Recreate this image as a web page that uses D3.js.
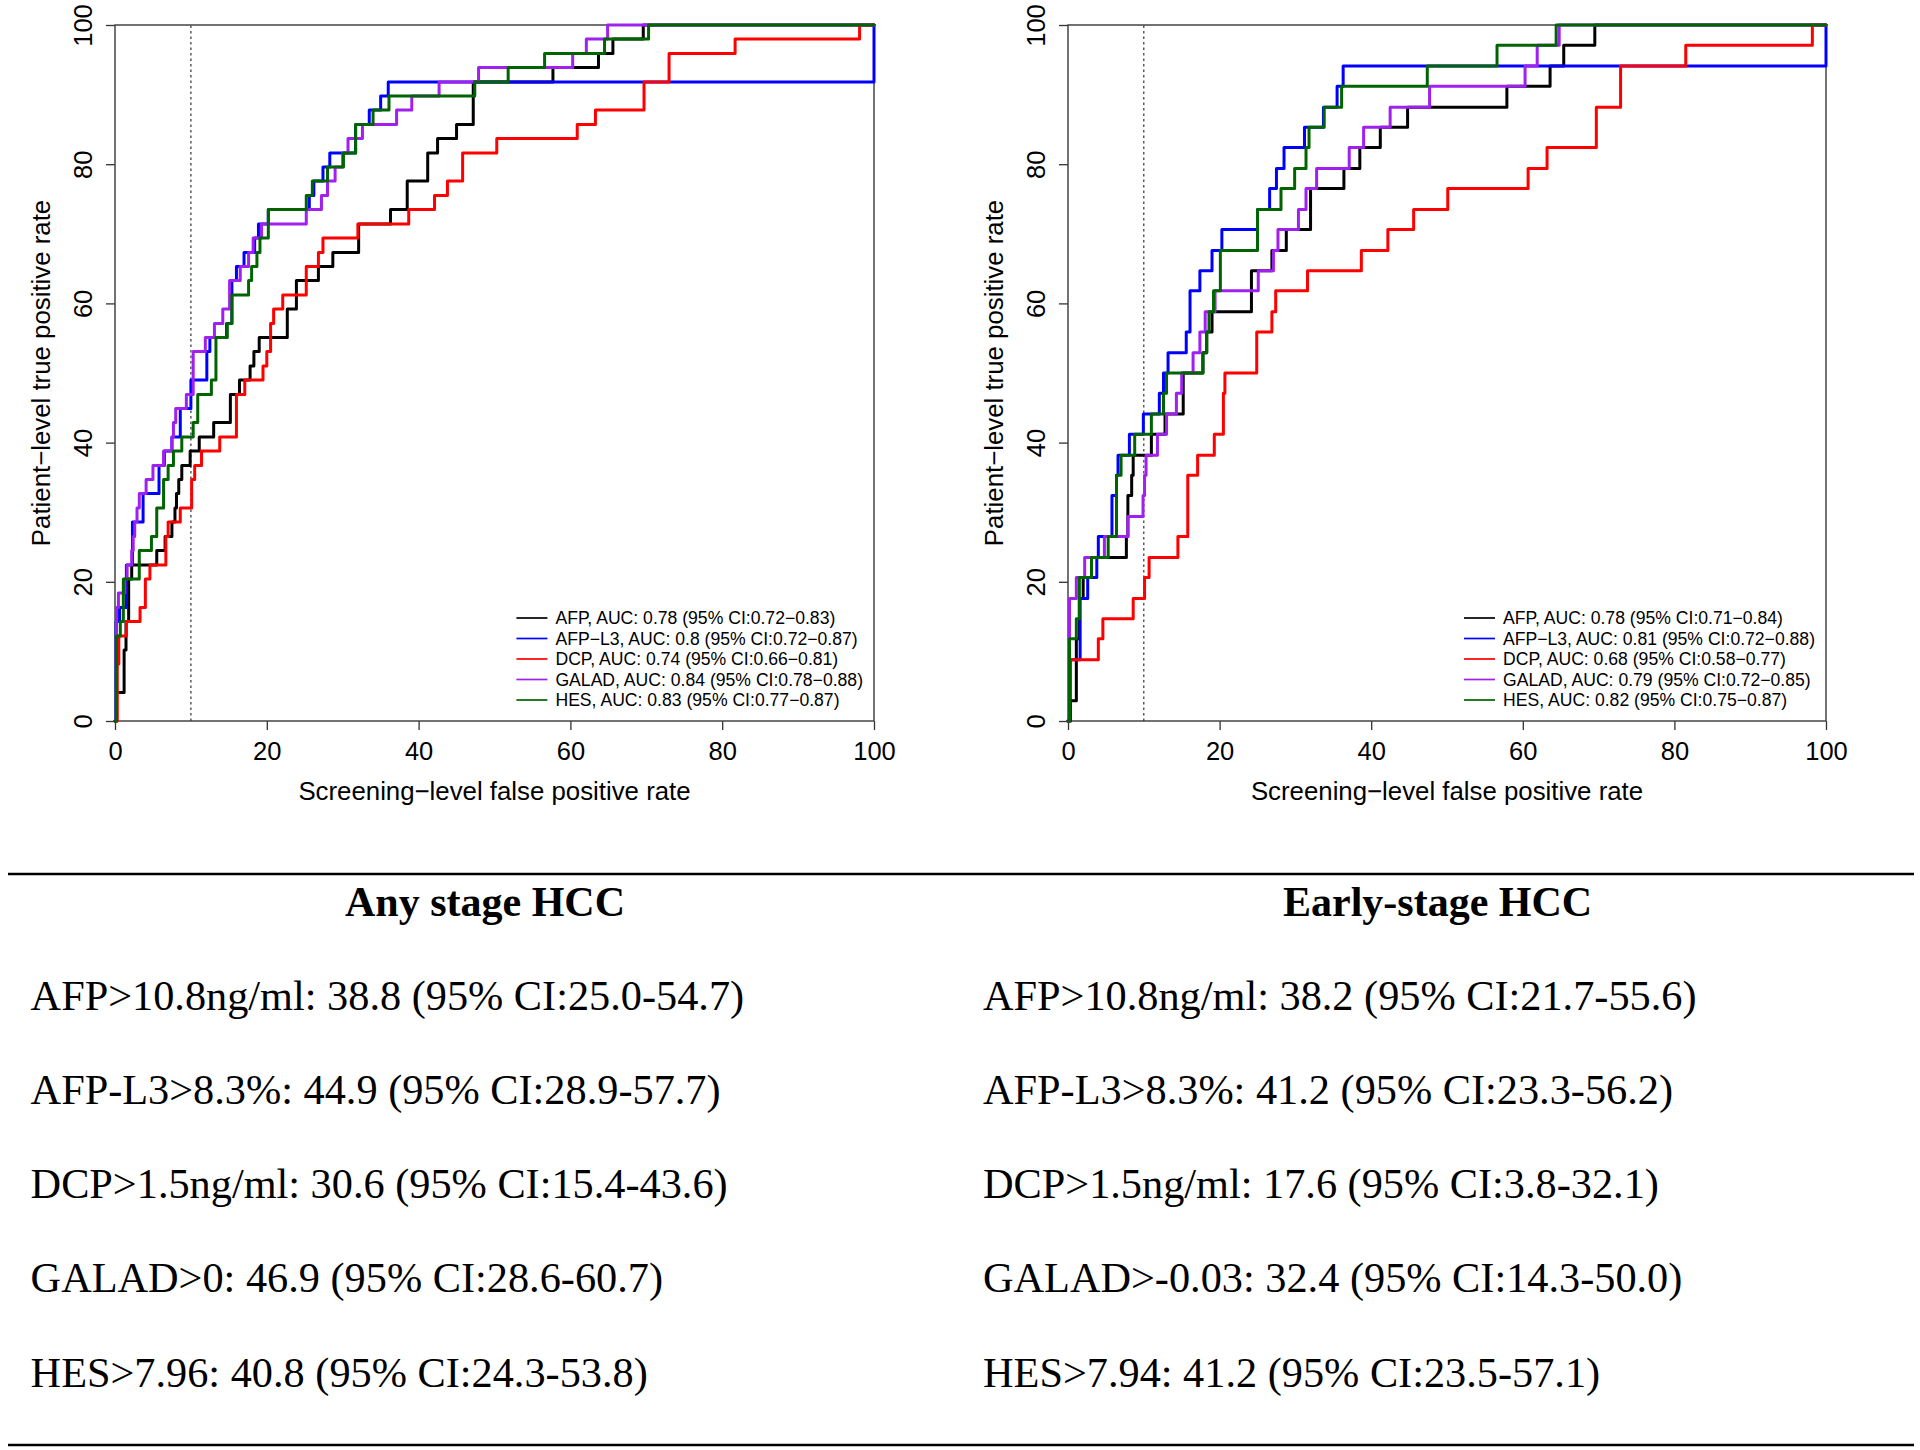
<!DOCTYPE html>
<html><head><meta charset="utf-8">
<script src="https://cdn.jsdelivr.net/npm/d3@7"></script>
<style>body{margin:0;background:#fff} svg{display:block}</style>
</head><body>
<svg id="c" width="1920" height="1450"></svg>
<script>
// ---------- DATA ----------
const seriesNames = ["AFP", "AFP−L3", "DCP", "GALAD", "HES"];
const seriesColors = ["#000000", "#0000FF", "#FF0000", "#A020F0", "#006400"];
const xTicks = [0, 20, 40, 60, 80, 100];
const yTicks = [0, 20, 40, 60, 80, 100];
const fprCutoff = 10;
const xTitle = "Screening−level false positive rate";
const yTitle = "Patient−level true positive rate";

// Any stage HCC: ROC points [FPR %, TPR %]
const anyAFP = [[0,0],[0.2,4.1],[1.2,10.2],[1.45,14.3],[1.8,20.4],[2.2,22.4],[5.5,24.5],[6.6,26.5],[7.5,28.6],[7.9,30.6],[8.1,32.7],[8.4,34.7],[8.8,36.7],[9.9,38.8],[11.1,40.8],[13.0,42.9],[15.2,46.9],[16.4,49.0],[17.8,51.0],[18.3,53.1],[19.0,55.1],[22.7,59.2],[23.9,63.3],[26.8,65.3],[28.7,67.3],[32.1,71.4],[36.3,73.5],[38.5,77.6],[41.2,81.6],[42.5,83.7],[45.0,85.7],[47.2,91.8],[57.7,93.9],[63.7,95.9],[65.6,98.0],[69.6,100],[100,100]];
const anyAFPL3 = [[0,0],[0.15,14.3],[0.6,16.3],[1.5,22.4],[2.3,28.6],[3.7,32.7],[5.8,36.7],[6.5,38.8],[7.5,40.8],[8.6,44.9],[10.0,49.0],[12.1,53.1],[12.5,55.1],[14.7,57.1],[15.4,63.3],[16.0,65.3],[17.0,67.3],[18.4,69.4],[18.9,71.4],[20.2,73.5],[25.6,75.5],[26.2,77.6],[27.4,79.6],[28.3,81.6],[31.7,85.7],[33.5,87.8],[35.0,89.8],[36.0,91.8],[100,100]];
const anyDCP = [[0,0],[0.3,8.2],[0.5,12.2],[1.5,14.3],[3.3,16.3],[4.0,20.4],[4.6,22.4],[6.7,26.5],[7.0,28.6],[8.6,30.6],[10.1,34.7],[10.5,36.7],[11.4,38.8],[13.8,40.8],[16.0,46.9],[17.1,49.0],[19.5,51.0],[20.0,53.1],[20.5,57.1],[20.9,59.2],[22.1,61.2],[25.2,65.3],[26.8,67.3],[27.4,69.4],[32.0,71.4],[38.7,73.5],[42.1,75.5],[43.8,77.6],[45.8,81.6],[50.3,83.7],[60.9,85.7],[63.3,87.8],[69.7,91.8],[73.0,95.9],[81.7,98.0],[98.1,100],[100,100]];
const anyGALAD = [[0,0],[0.2,16.3],[0.45,18.4],[1.3,20.4],[1.6,22.4],[2.2,24.5],[2.4,26.5],[2.6,28.6],[2.9,30.6],[3.2,32.7],[4.1,34.7],[5.0,36.7],[6.4,38.8],[7.5,40.8],[7.7,42.9],[8.0,44.9],[9.4,46.9],[10.3,53.1],[11.9,55.1],[13.1,57.1],[14.2,59.2],[15.1,63.3],[16.5,65.3],[17.6,67.3],[18.2,69.4],[19.3,71.4],[25.2,73.5],[27.2,75.5],[28.0,77.6],[29.0,79.6],[30.0,81.6],[30.7,83.7],[32.6,85.7],[37.1,87.8],[39.1,89.8],[42.7,91.8],[47.9,93.9],[60.3,95.9],[62.1,98.0],[64.9,100],[100,100]];
const anyHES = [[0,0],[0.2,12.2],[0.7,14.3],[1.1,20.4],[3.2,24.5],[4.8,26.5],[5.5,30.6],[6.4,34.7],[7.0,36.7],[7.7,38.8],[8.8,40.8],[10.3,42.9],[10.9,46.9],[12.7,49.0],[13.3,55.1],[14.8,57.1],[15.4,61.2],[17.6,63.3],[18.0,65.3],[18.7,67.3],[19.1,69.4],[20.2,73.5],[25.2,75.5],[26.0,77.6],[28.0,79.6],[30.1,81.6],[31.7,85.7],[34.0,87.8],[36.1,89.8],[47.4,91.8],[51.8,93.9],[56.6,95.9],[64.5,98.0],[70.3,100],[100,100]];

// Early-stage HCC: ROC points [FPR %, TPR %]
const earlyAFP = [[0,0],[0.3,2.9],[1.1,11.8],[1.5,17.6],[2.0,20.6],[3.1,23.5],[7.7,26.5],[7.9,32.4],[8.4,35.3],[8.6,38.2],[11.0,41.2],[12.8,44.1],[15.2,50.0],[17.8,52.9],[18.3,55.9],[19.0,58.8],[24.2,64.7],[26.9,67.6],[28.8,70.6],[32.0,76.5],[36.4,79.4],[38.5,82.4],[41.2,85.3],[44.8,88.2],[57.9,91.2],[63.6,94.1],[65.4,97.1],[69.5,100],[100,100]];
const earlyAFPL3 = [[0,0],[0.3,8.8],[1.6,17.6],[2.6,20.6],[3.8,23.5],[4.0,26.5],[5.8,32.4],[6.4,35.3],[6.6,38.2],[8.1,41.2],[9.94,44.1],[12.05,47.1],[12.6,50.0],[13.2,52.9],[15.6,55.9],[16.1,61.8],[17.4,64.7],[19.0,67.6],[20.3,70.6],[25.0,73.5],[26.6,76.5],[27.5,79.4],[28.5,82.4],[31.2,85.3],[33.7,88.2],[35.5,91.2],[36.3,94.1],[100,100]];
const earlyDCP = [[0,0],[0.2,8.8],[4.0,11.8],[4.6,14.7],[8.6,17.6],[10.1,20.6],[10.7,23.5],[14.5,26.5],[15.8,35.3],[17.1,38.2],[19.3,41.2],[20.5,47.1],[20.7,50.0],[24.9,55.9],[26.9,58.8],[27.4,61.8],[31.6,64.7],[38.7,67.6],[42.2,70.6],[45.6,73.5],[50.1,76.5],[60.7,79.4],[63.2,82.4],[69.7,88.2],[72.9,94.1],[81.5,97.1],[98.2,100],[100,100]];
const earlyGALAD = [[0,0],[0.2,17.6],[1.1,20.6],[2.2,23.5],[4.8,26.5],[7.9,29.4],[9.9,32.4],[10.1,35.3],[10.3,38.2],[11.8,41.2],[13.0,44.1],[14.3,47.1],[15.0,50.0],[16.5,52.9],[17.4,55.9],[18.1,58.8],[19.4,61.8],[25.1,64.7],[27.1,67.6],[27.7,70.6],[30.4,73.5],[31.4,76.5],[32.8,79.4],[37.1,82.4],[39.0,85.3],[42.5,88.2],[47.7,91.2],[60.3,94.1],[61.9,97.1],[64.8,100],[100,100]];
const earlyHES = [[0,0],[0.2,11.8],[1.1,14.7],[1.5,20.6],[3.1,23.5],[5.3,26.5],[6.4,35.3],[7.0,38.2],[8.8,41.2],[11.0,44.1],[12.6,47.1],[13.0,50.0],[17.8,52.9],[18.3,55.9],[18.6,58.8],[19.2,61.8],[20.1,67.6],[25.0,73.5],[28.1,76.5],[29.9,79.4],[31.4,82.4],[31.8,85.3],[33.8,88.2],[36.1,91.2],[47.4,94.1],[56.6,97.1],[64.4,100],[100,100]];

const anyLegend = [
  "AFP, AUC: 0.78 (95% CI:0.72−0.83)",
  "AFP−L3, AUC: 0.8 (95% CI:0.72−0.87)",
  "DCP, AUC: 0.74 (95% CI:0.66−0.81)",
  "GALAD, AUC: 0.84 (95% CI:0.78−0.88)",
  "HES, AUC: 0.83 (95% CI:0.77−0.87)"
];
const earlyLegend = [
  "AFP, AUC: 0.78 (95% CI:0.71−0.84)",
  "AFP−L3, AUC: 0.81 (95% CI:0.72−0.88)",
  "DCP, AUC: 0.68 (95% CI:0.58−0.77)",
  "GALAD, AUC: 0.79 (95% CI:0.72−0.85)",
  "HES, AUC: 0.82 (95% CI:0.75−0.87)"
];
const tableHeaders = ["Any stage HCC", "Early-stage HCC"];
const anyTable = [
  "AFP>10.8ng/ml: 38.8 (95% CI:25.0-54.7)",
  "AFP-L3>8.3%: 44.9 (95% CI:28.9-57.7)",
  "DCP>1.5ng/ml: 30.6 (95% CI:15.4-43.6)",
  "GALAD>0: 46.9 (95% CI:28.6-60.7)",
  "HES>7.96: 40.8 (95% CI:24.3-53.8)"
];
const earlyTable = [
  "AFP>10.8ng/ml: 38.2 (95% CI:21.7-55.6)",
  "AFP-L3>8.3%: 41.2 (95% CI:23.3-56.2)",
  "DCP>1.5ng/ml: 17.6 (95% CI:3.8-32.1)",
  "GALAD>-0.03: 32.4 (95% CI:14.3-50.0)",
  "HES>7.94: 41.2 (95% CI:23.5-57.1)"
];

// ---------- DRAW ----------
const svg = d3.select("#c");
const SANS = "'Liberation Sans', Arial, Helvetica, sans-serif";
const SERIF = "'Liberation Serif', 'Times New Roman', serif";
const TOP = 25, BOTTOM = 721;

function drawPanel(left, right, curves, legendTexts) {
  const x = d3.scaleLinear().domain([0, 100]).range([left, right]);
  const y = d3.scaleLinear().domain([0, 100]).range([BOTTOM, TOP]);
  const g = svg.append("g");

  // x axis
  const gx = g.append("g").attr("transform", `translate(0,${BOTTOM})`)
    .call(d3.axisBottom(x).tickValues(xTicks).tickSize(9).tickFormat(d3.format("d")));
  gx.select(".domain").remove();
  gx.selectAll("line").attr("stroke", "#333").attr("stroke-width", 1.3);
  gx.selectAll("text").attr("dy", null).attr("y", 39)
    .attr("font-size", 25.5).attr("font-family", SANS).attr("fill", "#000");

  // y axis
  const gy = g.append("g").attr("transform", `translate(${left},0)`)
    .call(d3.axisLeft(y).tickValues(yTicks).tickSize(9).tickFormat(d3.format("d")));
  gy.select(".domain").remove();
  gy.selectAll("line").attr("stroke", "#333").attr("stroke-width", 1.3);
  gy.selectAll("text").attr("dy", null).attr("x", 0).attr("y", -23)
    .attr("transform", "rotate(-90)").attr("text-anchor", "middle")
    .attr("font-size", 25.5).attr("font-family", SANS).attr("fill", "#000");

  // box
  g.append("rect").attr("x", left).attr("y", TOP)
    .attr("width", right - left).attr("height", BOTTOM - TOP)
    .attr("fill", "none").attr("stroke", "#444").attr("stroke-width", 1.5);

  // cutoff line
  g.append("line").attr("x1", x(fprCutoff)).attr("x2", x(fprCutoff))
    .attr("y1", y(0)).attr("y2", y(100))
    .attr("stroke", "#333").attr("stroke-width", 1.2).attr("stroke-dasharray", "2.5,3");

  // curves
  const line = d3.line().x(d => x(d[0])).y(d => y(d[1])).curve(d3.curveStepAfter);
  curves.forEach((c, i) => {
    g.append("path").datum(c).attr("d", line)
      .attr("fill", "none").attr("stroke", seriesColors[i]).attr("stroke-width", 3)
      .attr("stroke-linejoin", "round").attr("stroke-linecap", "round");
  });

  // axis titles
  g.append("text").attr("x", (left + right) / 2).attr("y", 800)
    .attr("text-anchor", "middle").attr("font-size", 25.8).attr("font-family", SANS)
    .text(xTitle);
  g.append("text").attr("transform", `translate(${left - 65},${(TOP + BOTTOM) / 2}) rotate(-90)`)
    .attr("text-anchor", "middle").attr("font-size", 25.8).attr("font-family", SANS)
    .text(yTitle);

  // legend (bottom-right)
  const lg = g.append("g");
  const rowY = i => BOTTOM - 97 + i * 20.5;
  const texts = legendTexts.map((t, i) => lg.append("text")
    .attr("y", rowY(i)).attr("font-size", 17.6).attr("font-family", SANS).text(t));
  const maxW = d3.max(texts, t => t.node().getComputedTextLength());
  const tx = right - 11 - maxW;
  texts.forEach((t, i) => {
    t.attr("x", tx);
    lg.append("line").attr("x1", tx - 39).attr("x2", tx - 8)
      .attr("y1", rowY(i) - 6).attr("y2", rowY(i) - 6)
      .attr("stroke", seriesColors[i]).attr("stroke-width", 1.7);
  });
}

drawPanel(115, 874, [anyAFP, anyAFPL3, anyDCP, anyGALAD, anyHES], anyLegend);
drawPanel(1068, 1826, [earlyAFP, earlyAFPL3, earlyDCP, earlyGALAD, earlyHES], earlyLegend);

// ---------- TABLE ----------
const t = svg.append("g");
[874, 1445].forEach(yy => t.append("line").attr("x1", 8).attr("x2", 1914)
  .attr("y1", yy).attr("y2", yy).attr("stroke", "#000").attr("stroke-width", 2.5));
[485, 1437.6].forEach((cx, i) => t.append("text").attr("x", cx).attr("y", 916)
  .attr("text-anchor", "middle").attr("font-family", SERIF).attr("font-weight", "bold")
  .attr("font-size", 42).text(tableHeaders[i]));
[[30.6, anyTable], [983, earlyTable]].forEach(([tx, rows]) => {
  rows.forEach((r, i) => t.append("text").attr("x", tx).attr("y", 1009.5 + i * 94.3)
    .attr("font-family", SERIF).attr("font-size", 42.3).text(r));
});
</script>
</body></html>
